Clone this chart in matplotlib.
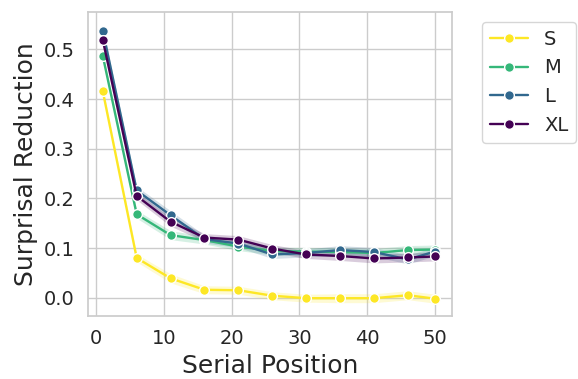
import numpy as np
import matplotlib
matplotlib.use('Agg')
import matplotlib.pyplot as plt
import seaborn as sns

sns.set_theme(style='whitegrid')

positions = [1, 6, 11, 16, 21, 26, 31, 36, 41, 46, 50]
sizes = ['S', 'M', 'L', 'XL']
s_vals = [0.416, 0.080, 0.039, 0.016, 0.015, 0.004, -0.001, -0.001, -0.001, 0.005, -0.002]
m_vals = [0.487, 0.168, 0.126, 0.116, 0.103, 0.094, 0.093, 0.092, 0.090, 0.096, 0.097]
l_vals = [0.538, 0.216, 0.166, 0.118, 0.109, 0.087, 0.090, 0.096, 0.092, 0.077, 0.093]
xl_vals = [0.519, 0.205, 0.153, 0.121, 0.117, 0.099, 0.087, 0.084, 0.079, 0.081, 0.083]
ci_half = [0.006, 0.008, 0.009, 0.008, 0.008, 0.008, 0.008, 0.009, 0.009, 0.009, 0.009]

series = [s_vals, m_vals, l_vals, xl_vals]
colors = plt.cm.viridis(np.linspace(1, 0, 4))

fig = plt.figure(figsize=(5.78, 3.79), dpi=100)
ax = fig.add_axes([0.152, 0.166, 0.630, 0.802])

x = np.array(positions)
for name, vals, color in zip(sizes, series, colors):
    y = np.array(vals)
    ci = np.array(ci_half)
    ax.fill_between(x, y - ci, y + ci, color=color, alpha=0.2, linewidth=0)
    ax.plot(x, y, '-o', color=color, label=name, linewidth=1.7,
            markersize=7, markeredgecolor='white', markeredgewidth=1)

ax.set_xlabel('Serial Position', fontsize=18)
ax.set_ylabel('Surprisal Reduction', fontsize=18)
ax.tick_params(labelsize=14)
ax.set_xticks([0, 10, 20, 30, 40, 50])
ax.set_yticks([0.0, 0.1, 0.2, 0.3, 0.4, 0.5])
ax.set_xlim(-1.2, 52.5)
ax.set_ylim(-0.037, 0.575)
ax.legend(loc='upper left', bbox_to_anchor=(1.055, 1.0), fontsize=14)

fig.savefig('out.png', dpi=100)
